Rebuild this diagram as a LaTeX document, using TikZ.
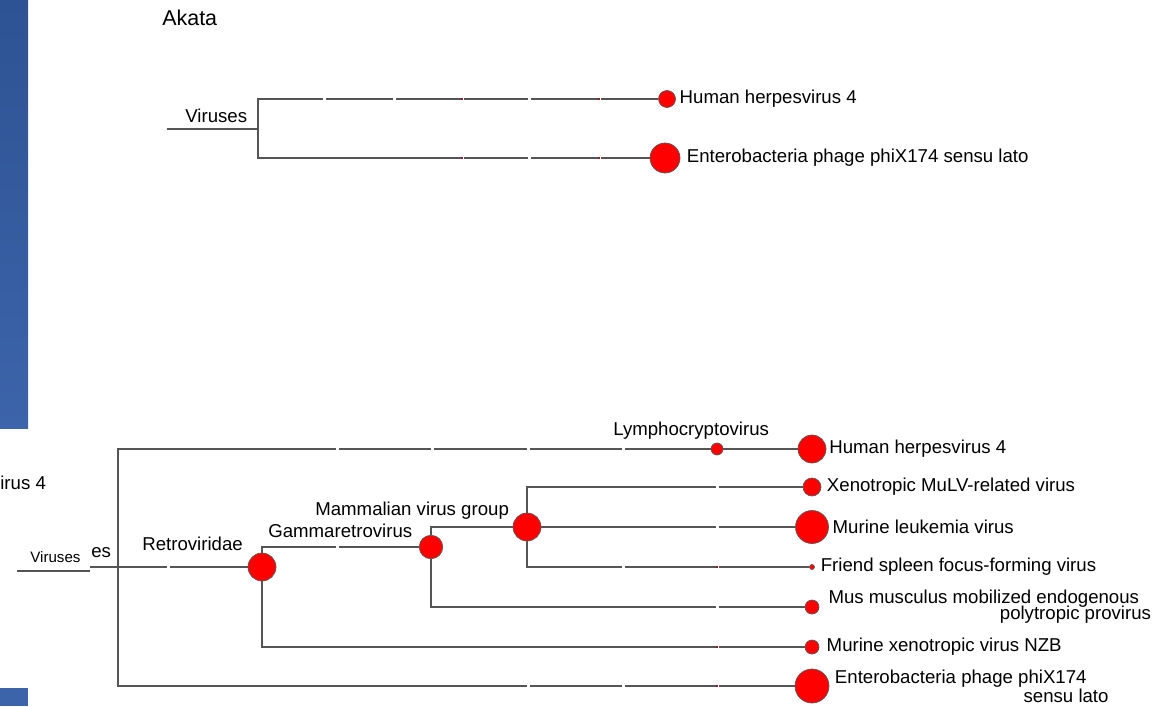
\documentclass[tikz,border=0pt]{standalone}
\usepackage{fontspec}
\setmainfont{Liberation Sans}
\usetikzlibrary{positioning}
\definecolor{slideblue}{RGB}{46,83,148}
\definecolor{slideblueb}{RGB}{60,100,170}
\definecolor{branchgray}{RGB}{85,85,85}
\definecolor{tickred}{RGB}{150,30,30}

\begin{document}
\begin{tikzpicture}[x=0.02cm, y=-0.02cm,
    every node/.style={font=\fontsize{10.6}{12.7}\selectfont},
    taxon/.style={circle, draw=black!65, fill=red, line width=0.4pt, inner sep=0pt},
    leaf/.style={inner sep=1pt},
    clade/.style={inner sep=0pt, anchor=base west},
    branchline/.style={draw=branchgray, line width=0.75pt}]
    \useasboundingbox (0,0) rectangle (1155,706);
    % slide border
    \shade[top color=slideblue, bottom color=slideblueb] (0,0) rectangle (28,428);
    \fill[slideblueb] (0,688) rectangle (28,706);
    % Akata tree
    \node[clade, font=\fontsize{12.2}{14}\selectfont] (akata) at (162,26) {Akata};
    \coordinate (aroot) at (167,129);
    \coordinate (asplit) at (258,129);
    \node[taxon, minimum size=0.34cm] (ahhv) at (667,99) {};
    \node[taxon, minimum size=0.6cm] (aphi) at (665,158) {};
    \node[clade] (aviruses) at (185,122) {Viruses};
    \node[leaf, right=1pt of ahhv] (ahhvlbl) {Human herpesvirus 4};
    \node[leaf, right=2.5pt of aphi] (aphilbl) {Enterobacteria phage phiX174 sensu lato};
    \draw[branchline] (aroot) -- (asplit);
    \draw[branchline] (asplit) |- (ahhv);
    \draw[branchline] (asplit) |- (aphi);
    % pieces of the covered picture
    \node[clade] (fraga) at (0,489) {irus 4};
    \node[clade, font=\fontsize{8.6}{10}\selectfont] (vsmall) at (30,562) {Viruses};
    \node[clade] (fragb) at (91,557) {es};
    % second tree
    \coordinate (vroot) at (17,571);
    \coordinate (vrootend) at (90,571);
    \coordinate (vstub) at (90,567);
    \coordinate (vsplit) at (118,567);
    \node[taxon, minimum size=0.24cm] (lym) at (717,449) {};
    \node[taxon, minimum size=0.56cm] (hhv) at (812,449) {};
    \node[taxon, minimum size=0.56cm] (retro) at (262,567) {};
    \node[taxon, minimum size=0.47cm] (gamma) at (431,547) {};
    \node[taxon, minimum size=0.56cm] (mamm) at (527,527) {};
    \node[taxon, minimum size=0.36cm] (xeno) at (812,487) {};
    \node[taxon, minimum size=0.66cm] (mlv) at (812,527) {};
    \node[taxon, minimum size=0.1cm] (ffv) at (812,567) {};
    \node[taxon, minimum size=0.28cm] (mus) at (812,607) {};
    \node[taxon, minimum size=0.28cm] (nzb) at (812,647) {};
    \node[taxon, minimum size=0.68cm] (phi) at (812,686) {};
    % clade names
    \node[clade] (lymlbl) at (613,435) {Lymphocryptovirus};
    \node[clade] (retrolbl) at (142,550) {Retroviridae};
    \node[clade] (gammalbl) at (268,537) {Gammaretrovirus};
    \node[clade] (mammlbl) at (315,515) {Mammalian virus group};
    % leaf names
    \node[leaf, right=0.5pt of hhv] (hhvlbl) {Human herpesvirus 4};
    \node[leaf, right=2pt of xeno] (xenolbl) {Xenotropic MuLV-related virus};
    \node[leaf, right=1pt of mlv] (mlvlbl) {Murine leukemia virus};
    \node[leaf, right=2.2pt of ffv] (ffvlbl) {Friend spleen focus-forming virus};
    \node[leaf, align=right, right=4pt of mus] (muslbl) {Mus musculus mobilized endogenous\\[-3.4pt]polytropic provirus\kern-6.8pt};
    \node[leaf, right=3pt of nzb] (nzblbl) {Murine xenotropic virus NZB};
    \node[leaf, align=right, right=2pt of phi] (philbl) {Enterobacteria phage phiX174\\[-1.9pt]sensu lato\kern-12.5pt};
    % branches
    \draw[branchline] (vroot) -- (vrootend);
    \draw[branchline] (vstub) -- (vsplit);
    \draw[branchline] (vsplit) |- (lym);
    \draw[branchline] (lym) -- (hhv);
    \draw[branchline] (vsplit) -- (retro);
    \draw[branchline] (vsplit) |- (phi);
    \draw[branchline] (retro) |- (gamma);
    \draw[branchline] (retro) |- (nzb);
    \draw[branchline] (gamma) |- (mamm);
    \draw[branchline] (gamma) |- (mus);
    \draw[branchline] (mamm) |- (xeno);
    \draw[branchline] (mamm) -- (mlv);
    \draw[branchline] (mamm) |- (ffv);
    % breaks in the branches
    \foreach \x/\y in {324/99, 394/99, 462/99, 529/99, 599/99, 462/158, 529/158, 599/158,
        337/449, 432/449, 528/449, 623/449, 168/567, 337/547, 717/487, 717/527,
        623/567, 717/567, 717/607, 717/647, 528/686, 623/686, 717/686}
        \fill[white] (\x-1.5,\y-2.5) rectangle (\x+1.5,\y+2.5);
    \foreach \x/\y in {462/99, 599/99, 462/158, 599/158, 717/567, 717/647, 717/686}
        \fill[tickred] (\x-0.8,\y-0.8) rectangle (\x+0.8,\y+0.8);
\end{tikzpicture}
\end{document}
